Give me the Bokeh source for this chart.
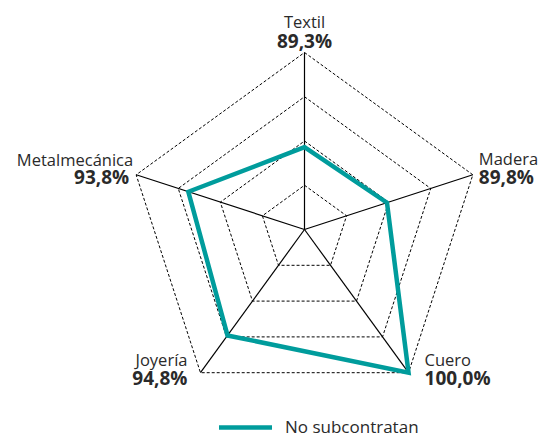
import numpy as np
from bokeh.plotting import figure
from bokeh.models import Range1d, Legend, LegendItem
from bokeh.embed import file_html
from bokeh.resources import INLINE

# ---- data ----
categories = ["Textil", "Madera", "Cuero", "Joyería", "Metalmecánica"]
values = [89.3, 89.8, 100.0, 94.8, 93.8]
series_name = "No subcontratan"
scale_ticks = [80, 85, 90, 95, 100]

# ---- layout ----
W, H = 539, 437
R_PX = 177.0           # outer radius in pixels
CX, CY = 304.0, 229.0  # centre (pixels from top-left of plot)
u = 1.0 / R_PX         # data units per pixel

rmin, rmax = scale_ticks[0], scale_ticks[-1]
n = len(categories)
theta = np.deg2rad(90 - 72 * np.arange(n))

def rnorm(v):
    return (np.asarray(v, dtype=float) - rmin) / (rmax - rmin)

p = figure(width=W, height=H, output_backend="svg", toolbar_location=None,
           x_range=Range1d(-CX * u, (W - CX) * u),
           y_range=Range1d(-(H - CY) * u, CY * u),
           min_border=0, outline_line_color=None)
p.axis.visible = False
p.grid.visible = False
p.background_fill_color = "white"

# rings (dashed)
for t in scale_ticks[1:]:
    r = rnorm(t)
    xs = list(r * np.cos(theta)) + [r * np.cos(theta[0])]
    ys = list(r * np.sin(theta)) + [r * np.sin(theta[0])]
    p.line(xs, ys, line_color="black", line_width=1, line_dash="3 2")

# spokes
p.segment(x0=np.zeros(n), y0=np.zeros(n), x1=np.cos(theta), y1=np.sin(theta),
          line_color="black", line_width=1.2)

# data polygon
rv = rnorm(values)
px = list(rv * np.cos(theta)) + [rv[0] * np.cos(theta[0])]
py = list(rv * np.sin(theta)) + [rv[0] * np.sin(theta[0])]
poly = p.line(px, py, line_color="#009C9C", line_width=4.5, line_join="miter",
              line_cap="round")

# labels: (dx_name, dy_name, dx_val, dy_val, align) in pixels, screen-down positive
offs = [(0, -31, 0, -12, "center"),
        (6, -16, 6, 2, "left"),
        (16, -13, 16, 5, "left"),
        (-13, -13, -13, 5, "right"),
        (-3, -15, -7, 2, "right")]
vx, vy = np.cos(theta), np.sin(theta)
val_labels = [f"{v:.1f}%".replace(".", ",") for v in values]
for i in range(n):
    dxn, dyn, dxv, dyv, al = offs[i]
    p.text(x=[vx[i] + dxn * u], y=[vy[i] - dyn * u], text=[categories[i]],
           text_align=al, text_baseline="alphabetic", text_font_size="16.5px",
           text_font={"value": "Open Sans"}, text_color="#2a2a2a")
    p.text(x=[vx[i] + dxv * u], y=[vy[i] - dyv * u], text=[val_labels[i]],
           text_align=al, text_baseline="alphabetic", text_font_size="19px",
           text_font_style="bold", text_font={"value": "Open Sans"},
           text_color="#2a2a2a")

legend = Legend(items=[LegendItem(label=series_name, renderers=[poly])],
                location=(219, -1), orientation="horizontal",
                glyph_width=53, glyph_height=14, label_height=14,
                label_standoff=13, padding=0, margin=0, spacing=0,
                border_line_color=None, background_fill_alpha=0,
                label_text_font_size="17px", label_text_font="Open Sans",
                label_text_color="#2a2a2a")
p.add_layout(legend, "center")

open("out.html", "w").write(file_html(p, INLINE))
